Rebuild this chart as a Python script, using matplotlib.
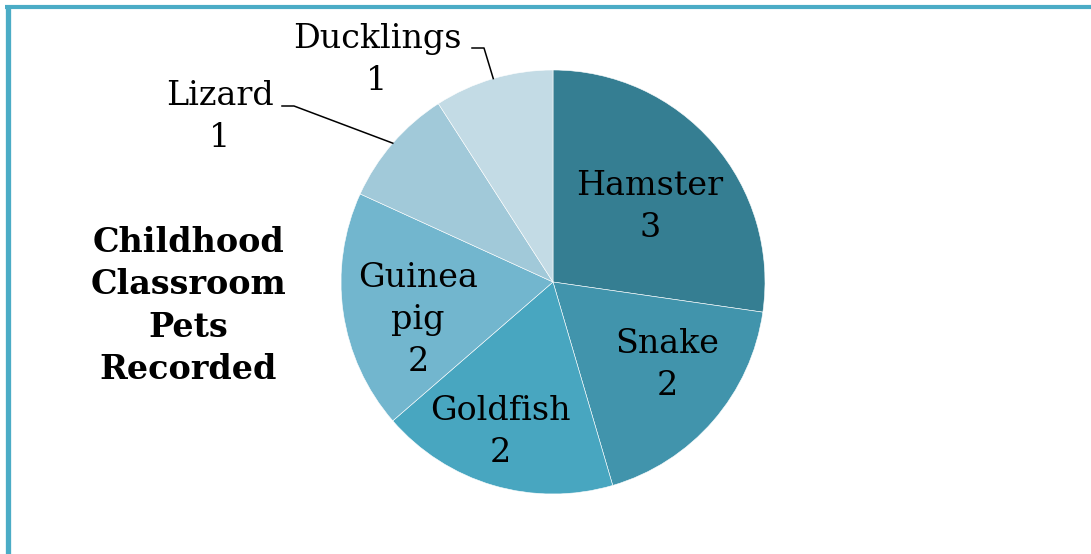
import numpy as np
import matplotlib
matplotlib.use("Agg")
import matplotlib.pyplot as plt
from matplotlib.lines import Line2D

# data
pets = ["Hamster", "Snake", "Goldfish", "Guinea\npig", "Lizard", "Ducklings"]
counts = [3, 2, 2, 2, 1, 1]
colors = ["#357E92", "#4194AC", "#48A6C0", "#72B6CE", "#A1C9D9", "#C3DBE5"]

W, H = 1091, 554
cx, cy, R = 553, 282, 212

fig = plt.figure(figsize=(W / 100, H / 100), dpi=100)
ax = fig.add_axes([(cx - R) / W, (H - cy - R) / H, 2 * R / W, 2 * R / H])

wedges, _ = ax.pie(counts, colors=colors, startangle=90, counterclock=False,
                   radius=1, wedgeprops=dict(edgecolor="white", linewidth=0.4))
ax.set_xlim(-1, 1)
ax.set_ylim(-1, 1)
ax.set_aspect("equal")
ax.axis("off")


def d(px, py):
    # pixel position -> data coords of the pie axes
    return (px - cx) / R, (cy - py) / R


font = dict(family="DejaVu Serif", fontsize=24, color="black")
lsp = 1.4

# labels inside the slices
inside = {0: (650, 207), 1: (667, 365), 2: (500, 432), 3: (418, 320)}
for i, (px, py) in inside.items():
    x, y = d(px, py)
    ax.text(x, y, f"{pets[i]}\n{counts[i]}", ha="center", va="center",
            linespacing=lsp, **font)

# outside labels with leader lines
outside = {4: ((220, 117), (282, 106)), 5: ((377, 60), (472, 48))}
total = sum(counts)
for i, ((px, py), (lx, ly)) in outside.items():
    x, y = d(px, py)
    ax.text(x, y, f"{pets[i]}\n{counts[i]}", ha="center", va="center",
            linespacing=lsp, clip_on=False, **font)
    mid = 90 - 360 * (sum(counts[:i]) + counts[i] / 2) / total
    ex, ey = np.cos(np.radians(mid)), np.sin(np.radians(mid))
    x0, y0 = d(lx, ly)
    x1, _ = d(lx + 12, ly)
    ax.plot([x0, x1, ex], [y0, y0, ey], color="black", lw=1.1, clip_on=False)

fig.text(188 / W, 1 - 306 / H, "Childhood\nClassroom\nPets\nRecorded",
         ha="center", va="center", family="DejaVu Serif", fontweight="bold",
         fontsize=24, linespacing=1.35)

# frame on the left and top edges
border = "#4BACC6"
fig.add_artist(Line2D([7.5 / W, 7.5 / W], [0, 1 - 5 / H], color=border, lw=3.8,
                      transform=fig.transFigure, solid_capstyle="butt"))
fig.add_artist(Line2D([5 / W, 1], [1 - 6.5 / H, 1 - 6.5 / H], color=border, lw=3.0,
                      transform=fig.transFigure, solid_capstyle="butt"))

fig.savefig("out.png", dpi=100)
